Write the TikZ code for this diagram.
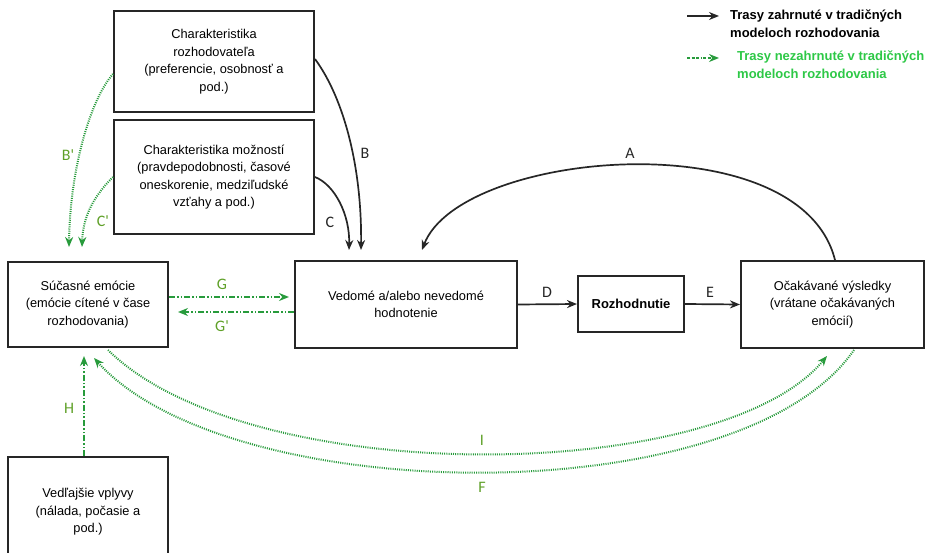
\documentclass[tikz,border=0pt]{standalone}
\usepackage{fontspec}
\setmainfont{Liberation Sans}
\newfontfamily\lblfont{Carlito}
\usetikzlibrary{calc,arrows.meta}
\definecolor{arrgreen}{RGB}{40,155,60}
\definecolor{lblgreen}{RGB}{95,160,40}
\definecolor{leggreen}{RGB}{45,200,70}
\begin{document}
\begin{tikzpicture}[x=1pt,y=-1pt,
  box/.style={draw=black!85, line width=2pt, fill=white, align=center,
    font=\fontsize{12.8}{17.5}\selectfont, inner sep=0pt},
  blk/.style={-{Stealth[length=10pt,width=8pt]}, line width=1.7pt, draw=black!85},
  gdot/.style={-{Stealth[length=10pt,width=8pt]}, line width=2pt, dash pattern=on 1pt off 1.2pt, draw=arrgreen},
  gdash/.style={-{Stealth[length=10pt,width=8pt]}, line width=2pt,
    dash pattern=on 6pt off 2pt on 1.5pt off 2pt on 1.5pt off 2pt, draw=arrgreen},
  lbl/.style={font=\lblfont\fontsize{16}{16}\selectfont, text=black!85, inner sep=0pt},
  glbl/.style={lbl, text=lblgreen},
  leg/.style={font=\bfseries\fontsize{13}{18}\selectfont, align=left, anchor=west, inner sep=0pt}]
\useasboundingbox (0,0) rectangle (927,553);

% boxes
\node[box, minimum width=200, minimum height=101] (b1) at (214,61.5)
  {Charakteristika\\rozhodovateľa\\(preferencie, osobnosť a\\pod.)};
\node[box, minimum width=200, minimum height=114] (b2) at (214,177)
  {Charakteristika možností\\(pravdepodobnosti, časové\\oneskorenie, medziľudské\\vzťahy a pod.)};
\node[box, minimum width=160, minimum height=85] (b3) at (88,304.5)
  {Súčasné emócie\\(emócie cítené v čase\\rozhodovania)};
\node[box, minimum width=222, minimum height=87] (b4) at (406,304.5)
  {Vedomé a/alebo nevedomé\\hodnotenie};
\node[box, minimum width=106, minimum height=56, font=\bfseries\fontsize{13}{16}\selectfont] (b5) at (631,304)
  {Rozhodnutie};
\node[box, minimum width=183, minimum height=87] (b6) at (832.5,304.5)
  {Očakávané výsledky\\(vrátane očakávaných\\emócií)};
\node[box, minimum width=160, minimum height=110] (b7) at (88,512)
  {Vedľajšie vplyvy\\(nálada, počasie a\\pod.)};

% black connectors
\draw[blk] ($(b1.north east)+(0,49)$) .. controls (345,100) and (362,170) .. ($(b4.north west)+(67,-10)$);
\draw[blk] (b2.east) .. controls (335,185) and (350,215) .. ($(b4.north west)+(55,-10)$);
\draw[blk] ($(b6.north west)+(95,0)$) .. controls (800,120) and (460,150) .. ($(b4.north west)+(128,-10)$);
\draw[blk] (b4.east) -- (b5.west);
\draw[blk] (b5.east) -- (b6.west);

% green connectors
\draw[gdot] ($(b1.north west)+(0,64)$) .. controls (90,100) and (70,170) .. ($(b3.north west)+(62,-14)$);
\draw[gdot] (b2.west) .. controls (95,195) and (83,215) .. ($(b3.north west)+(75,-14)$);
\draw[gdash, shorten >=5pt] ([yshift=7.5pt]b3.east) -- ([yshift=7.5pt]b4.west);
\draw[gdash, shorten >=9pt] ([yshift=-7.5pt]b4.west) -- ([yshift=-7.5pt]b3.east);
\draw[gdash] ($(b7.north west)+(77,0)$) -- ($(b3.south west)+(77,8)$);
\draw[gdot] ($(b3.south west)+(101,2)$) .. controls (250,490) and (720,485) .. ($(b6.south west)+(87,7)$);
\draw[gdot] ($(b6.south west)+(114,1)$) .. controls (740,515) and (229,508) .. ($(b3.south west)+(87,10)$);

% labels
\node[lbl] (lA) at (630,153) {A};
\node[lbl] (lB) at (365,153) {B};
\node[lbl] (lC) at (330,222) {C};
\node[lbl] (lD) at (547,292) {D};
\node[lbl] (lE) at (710,292) {E};
\node[glbl] (lBp) at (68,155) {B'};
\node[glbl] (lCp) at (103,221) {C'};
\node[glbl] (lG) at (222,284) {G};
\node[glbl] (lGp) at (222,326) {G'};
\node[glbl] (lH) at (69,408) {H};
\node[glbl] (lI) at (482,440) {I};
\node[glbl] (lF) at (482,487) {F};

% legend
\coordinate (k1a) at (687,16);
\coordinate (k1b) at (719,16);
\coordinate (k2a) at (687,58);
\coordinate (k2b) at (719,58);
\draw[blk] (k1a) -- (k1b);
\draw[gdash, dash pattern=on 3pt off 1.5pt on 3pt off 1.5pt on 3pt off 1.5pt on 1pt off 1.5pt] (k2a) -- (k2b);
\node[leg, text=black] (t1) at (730,24) {Trasy zahrnuté v tradičných\\modeloch rozhodovania};
\node[leg, text=leggreen] (t2) at (737,65) {Trasy nezahrnuté v tradičných\\modeloch rozhodovania};
\end{tikzpicture}
\end{document}
